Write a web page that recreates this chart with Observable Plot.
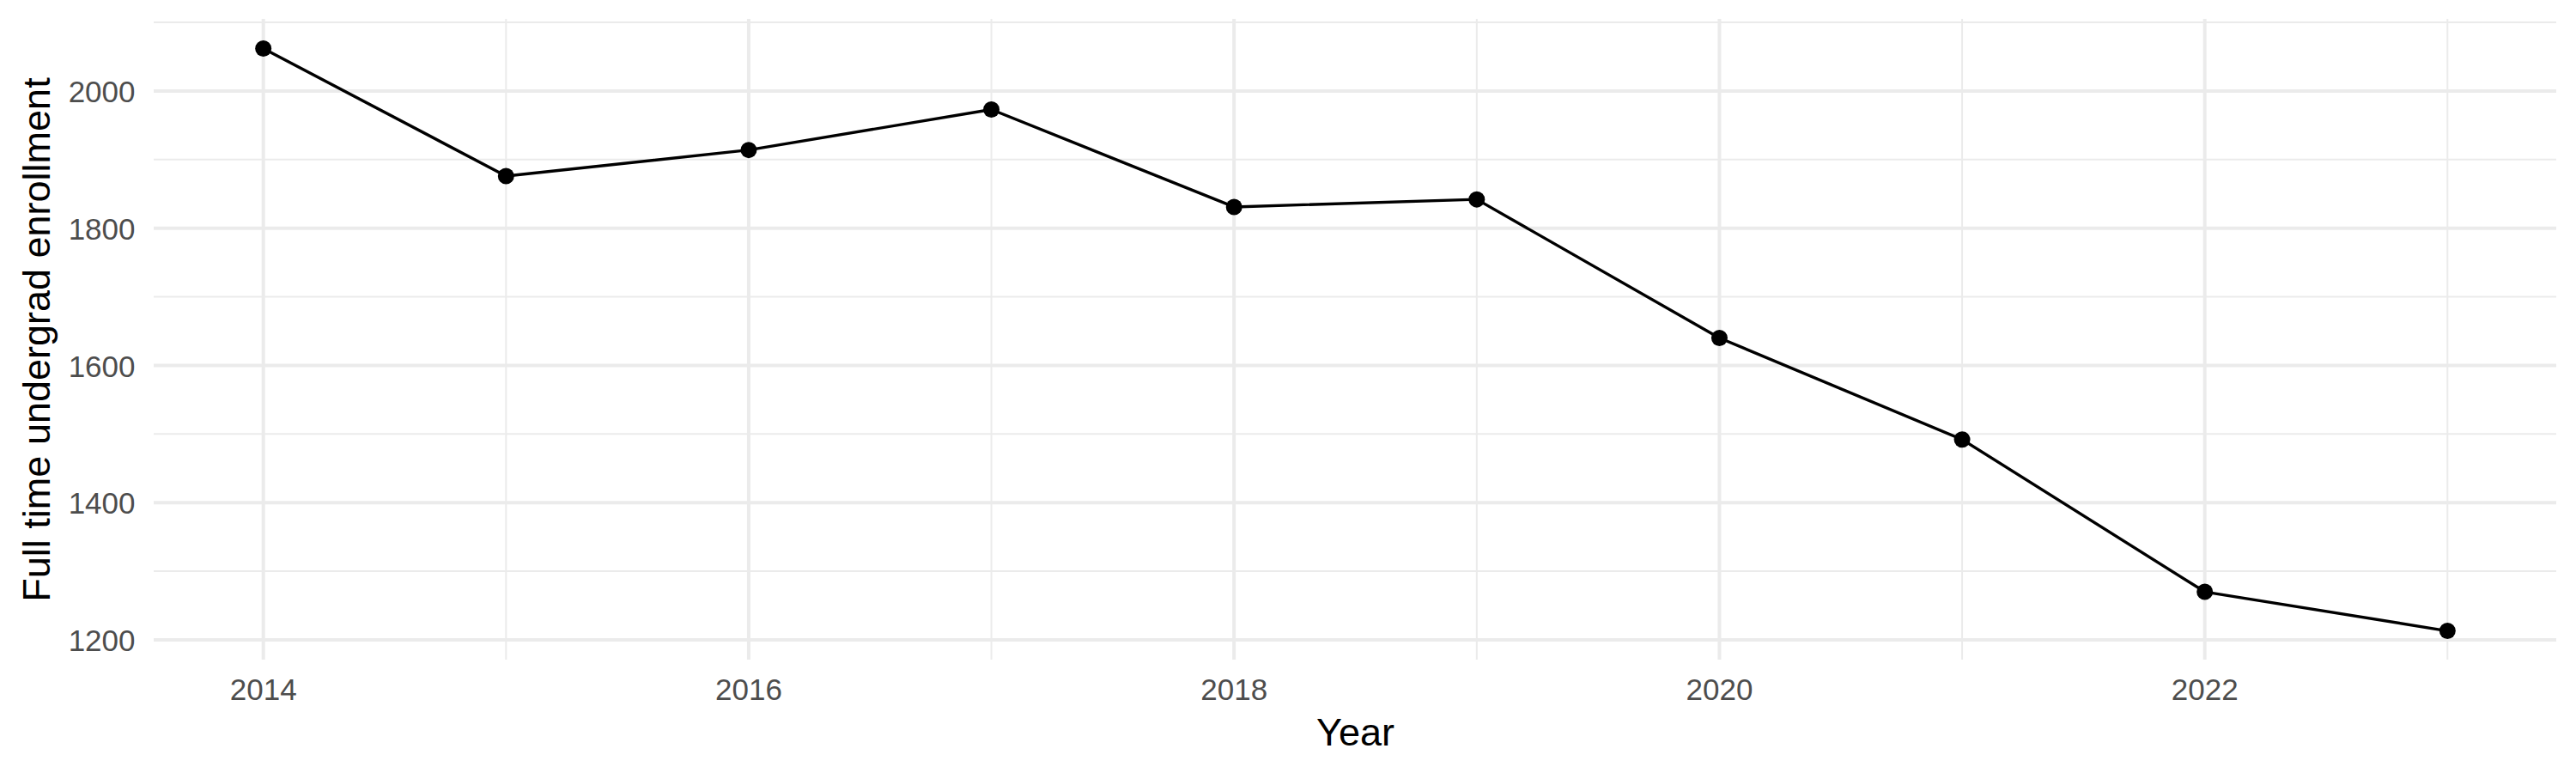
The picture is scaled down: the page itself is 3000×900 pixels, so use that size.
<!DOCTYPE html>
<html>
<head>
<meta charset="utf-8">
<script src="https://cdn.jsdelivr.net/npm/d3@7"></script>
<script src="https://cdn.jsdelivr.net/npm/@observablehq/plot@0.6"></script>
<style>
  html, body { margin: 0; padding: 0; background: #fff; }
  svg { font-family: "Liberation Sans", Arial, Helvetica, sans-serif; }
</style>
</head>
<body>
<div id="chart"></div>
<script>
const years = [2014, 2015, 2016, 2017, 2018, 2019, 2020, 2021, 2022, 2023];
const enrollment = [2062, 1876, 1914, 1973, 1831, 1842, 1640, 1492, 1270, 1213];
const xMajorTicks = [2014, 2016, 2018, 2020, 2022];
const xMinorTicks = [2015, 2017, 2019, 2021, 2023];
const yMajorTicks = [1200, 1400, 1600, 1800, 2000];
const yMinorTicks = [1300, 1500, 1700, 1900, 2100];
const xTitle = "Year";
const yTitle = "Full time undergrad enrollment";

const data = years.map((year, i) => ({year, value: enrollment[i]}));

// ggplot-style 5% expansion
const xExt = d3.extent(years), yExt = d3.extent(enrollment);
const xPad = (xExt[1] - xExt[0]) * 0.05, yPad = (yExt[1] - yExt[0]) * 0.05;

const grid = "#EBEBEB";

const chart = Plot.plot({
  width: 3000,
  height: 900,
  marginLeft: 179,
  marginRight: 23,
  marginTop: 22,
  marginBottom: 132,
  style: {background: "#fff", fontFamily: '"Liberation Sans", Arial, Helvetica, sans-serif'},
  x: {type: "linear", domain: [xExt[0] - xPad, xExt[1] + xPad]},
  y: {type: "linear", domain: [yExt[0] - yPad, yExt[1] + yPad]},
  marks: [
    Plot.ruleY(yMinorTicks, {stroke: grid, strokeWidth: 2}),
    Plot.ruleX(xMinorTicks, {stroke: grid, strokeWidth: 2}),
    Plot.ruleY(yMajorTicks, {stroke: grid, strokeWidth: 4}),
    Plot.ruleX(xMajorTicks, {stroke: grid, strokeWidth: 4}),
    Plot.axisX(xMajorTicks, {tickSize: 0, tickPadding: 22, fontSize: 35, color: "#4D4D4D", tickFormat: d => String(d), label: null}),
    Plot.axisY(yMajorTicks, {tickSize: 0, tickPadding: 22, fontSize: 35, color: "#4D4D4D", tickFormat: d => String(d), label: null, dy: 2}),
    Plot.line(data, {x: "year", y: "value", stroke: "black", strokeWidth: 3.4}),
    Plot.dot(data, {x: "year", y: "value", fill: "black", r: 9.5}),
    Plot.text([xTitle], {frameAnchor: "bottom", text: d => d, fontSize: 45, fill: "black", textAnchor: "middle", lineAnchor: "middle", dy: 85}),
    Plot.text([yTitle], {frameAnchor: "left", text: d => d, fontSize: 45, fill: "black", rotate: -90, textAnchor: "middle", lineAnchor: "middle", dx: -136})
  ]
});
document.getElementById("chart").appendChild(chart);
</script>
</body>
</html>
